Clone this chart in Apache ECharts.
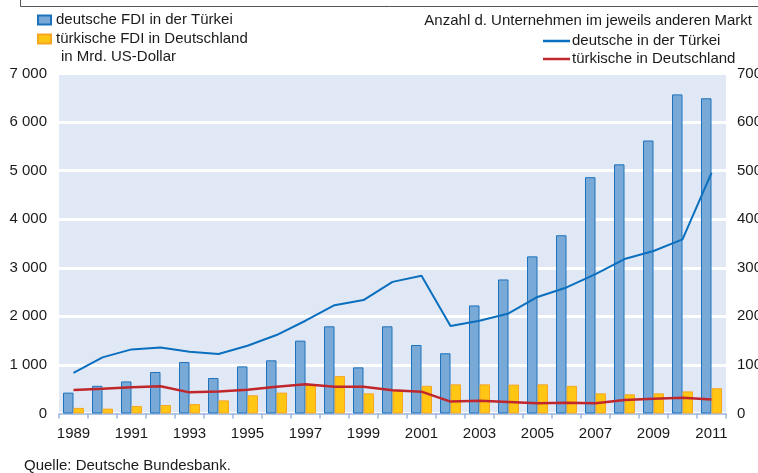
<!DOCTYPE html>
<html>
<head>
<meta charset="utf-8">
<script src="https://cdn.jsdelivr.net/npm/echarts@6/dist/echarts.min.js"></script>
<style>
  html, body { margin: 0; padding: 0; background: #fff; }
  #container { width: 758px; height: 473px; }
</style>
</head>
<body>
<div id="container"></div>
<script>
// Daten
const jahre = ['1989', '1990', '1991', '1992', '1993', '1994', '1995', '1996', '1997', '1998', '1999', '2000',
  '2001', '2002', '2003', '2004', '2005', '2006', '2007', '2008', '2009', '2010', '2011'];

// FDI in Mrd. US-Dollar
const fdiDeutscheInTuerkei = [430, 570, 660, 855, 1060, 730, 970, 1095, 1500, 1795, 950, 1795,
  1410, 1240, 2225, 2760, 3235, 3670, 4865, 5130, 5620, 6570, 6490];
const fdiTuerkischeInDeutschland = [115, 100, 155, 175, 195, 270, 375, 430, 590, 770, 415, 480,
  570, 600, 600, 595, 600, 570, 415, 395, 415, 455, 520];

// Anzahl der Unternehmen im jeweils anderen Markt
const firmenDeutscheInTuerkei = [835, 1155, 1320, 1360, 1270, 1225, 1395, 1615, 1910, 2230, 2335, 2710,
  2835, 1800, 1910, 2060, 2400, 2595, 2870, 3180, 3345, 3585, 4955];
const firmenTuerkischeInDeutschland = [485, 510, 540, 560, 435, 455, 490, 550, 600, 552, 552, 478,
  450, 245, 265, 238, 210, 222, 210, 278, 305, 326, 286];

const leftTicks = v => String(v).replace(/\B(?=(\d{3})+(?!\d))/g, ' ');

const schrift = 'Liberation Sans, Arial, sans-serif';

const chart = echarts.init(document.getElementById('container'), null, { renderer: 'canvas' });

const option = {
  animation: false,
  backgroundColor: '#ffffff',
  textStyle: { fontFamily: schrift, color: '#1a1a1a' },
  grid: {
    left: 59, top: 73.5, width: 667, height: 340,
    outerBoundsMode: 'none', containLabel: false,
    show: true, backgroundColor: '#e1e8f5', borderWidth: 0
  },
  legend: [
    {
      data: ['deutsche FDI in der Türkei', 'türkische FDI in Deutschland'],
      orient: 'vertical', left: 37, top: 12.5,
      icon: 'rect', itemWidth: 13, itemHeight: 9, itemGap: 4,
      padding: 0,
      textStyle: { fontSize: 15, fontFamily: schrift, color: '#1a1a1a', lineHeight: 15 }
    },
    {
      data: ['deutsche in der Türkei', 'türkische in Deutschland'],
      orient: 'vertical', left: 543, top: 33.5,
      icon: 'rect', itemWidth: 27, itemHeight: 2.5, itemGap: 3,
      padding: 0,
      textStyle: { fontSize: 15, fontFamily: schrift, color: '#1a1a1a', lineHeight: 15, padding: [0, 0, 0, -3] }
    }
  ],
  graphic: [
    {
      type: 'polyline', silent: true,
      shape: { points: [[20.5, 0], [20.5, 6.5], [758, 6.5]] },
      style: { stroke: '#555555', lineWidth: 1, fill: null }
    },
    {
      type: 'text', left: 61, top: 49,
      style: { text: 'in Mrd. US-Dollar', font: '15px ' + schrift, fill: '#1a1a1a' }
    },
    {
      type: 'text', right: 6, top: 13,
      style: { text: 'Anzahl d. Unternehmen im jeweils anderen Markt', font: '15px ' + schrift, fill: '#1a1a1a' }
    },
    {
      type: 'text', left: 24, top: 458,
      style: { text: 'Quelle: Deutsche Bundesbank.', font: '15px ' + schrift, fill: '#1a1a1a' }
    }
  ],
  xAxis: {
    type: 'category',
    data: jahre,
    boundaryGap: true,
    axisLine: { lineStyle: { color: '#9db5df', width: 1.5 } },
    axisTick: { show: true, interval: 0, length: 5, lineStyle: { color: '#9db5df', width: 1.5 } },
    axisLabel: { interval: 1, fontSize: 15, margin: 13, color: '#1a1a1a', fontFamily: schrift },
    splitLine: { show: false }
  },
  yAxis: [
    {
      type: 'value', min: 0, max: 7000, interval: 1000,
      axisLine: { show: false }, axisTick: { show: false },
      axisLabel: { fontSize: 15, margin: 12, color: '#1a1a1a', fontFamily: schrift, formatter: leftTicks },
      splitLine: { show: true, lineStyle: { color: '#ffffff', width: 3 } }
    },
    {
      type: 'value', min: 0, max: 7000, interval: 1000, position: 'right',
      axisLine: { show: false }, axisTick: { show: false },
      axisLabel: { fontSize: 15, margin: 11, color: '#1a1a1a', fontFamily: schrift, formatter: v => String(v) },
      splitLine: { show: false }
    }
  ],
  series: [
    {
      name: 'deutsche FDI in der Türkei',
      type: 'bar',
      data: fdiDeutscheInTuerkei,
      barWidth: 10.5, barGap: '0%',
      itemStyle: { color: '#79a9d6', borderColor: '#1d72bd', borderWidth: 1 }
    },
    {
      name: 'türkische FDI in Deutschland',
      type: 'bar',
      data: fdiTuerkischeInDeutschland,
      barWidth: 10.5, barGap: '0%',
      itemStyle: { color: '#ffc614', borderColor: '#f6a623', borderWidth: 1 }
    },
    {
      name: 'deutsche in der Türkei',
      type: 'line',
      yAxisIndex: 1,
      data: firmenDeutscheInTuerkei,
      showSymbol: false, symbol: 'none',
      color: '#0a6fbe',
      lineStyle: { color: '#0a6fbe', width: 2 },
      z: 5
    },
    {
      name: 'türkische in Deutschland',
      type: 'line',
      yAxisIndex: 1,
      data: firmenTuerkischeInDeutschland,
      showSymbol: false, symbol: 'none',
      color: '#c0272d',
      lineStyle: { color: '#c0272d', width: 2.5 },
      z: 5
    }
  ]
};

chart.setOption(option);
window.addEventListener('resize', () => chart.resize());
</script>
</body>
</html>
